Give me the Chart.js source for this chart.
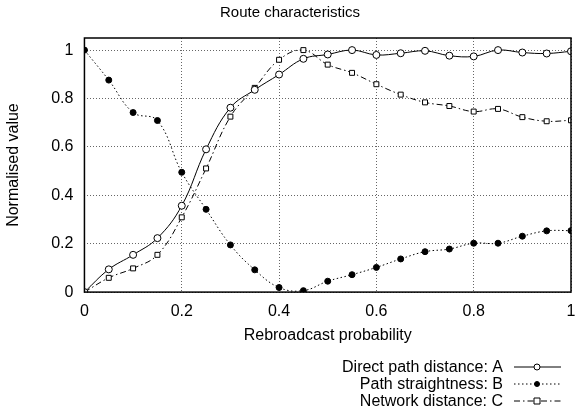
<!DOCTYPE html>
<html>
<head>
<meta charset="utf-8">
<script src="https://cdn.jsdelivr.net/npm/chart.js@4/dist/chart.umd.min.js"></script>
<style>
  html, body { margin: 0; padding: 0; background: #fff; }
  #wrap { width: 576px; height: 414px; }
</style>
</head>
<body>
<div id="wrap"><canvas id="chart"></canvas></div>
<script>
const probs = [0, 0.05, 0.1, 0.15, 0.2, 0.25, 0.3, 0.35, 0.4, 0.45, 0.5,
  0.55, 0.6, 0.65, 0.7, 0.75, 0.8, 0.85, 0.9, 0.95, 1];
const directPath = [0, 0.094, 0.154, 0.223, 0.357, 0.59, 0.762, 0.836, 0.899, 0.964, 0.982,
  1.0, 0.98, 0.987, 0.997, 0.977, 0.974, 1.0, 0.99, 0.986, 0.995];
const straightness = [1.0, 0.876, 0.742, 0.709, 0.495, 0.342, 0.195, 0.092, 0.019, 0.006, 0.045,
  0.072, 0.102, 0.137, 0.167, 0.178, 0.202, 0.202, 0.231, 0.253, 0.254];
const networkDist = [0, 0.059, 0.098, 0.154, 0.309, 0.511, 0.725, 0.844, 0.96, 1.0, 0.94,
  0.906, 0.859, 0.816, 0.784, 0.769, 0.746, 0.757, 0.723, 0.706, 0.71];
const xTicks = [0, 0.2, 0.4, 0.6, 0.8, 1];
const yTicks = [0, 0.2, 0.4, 0.6, 0.8, 1];
const seriesNames = ["Direct path distance: A", "Path straightness: B", "Network distance: C"];

const FONT = "'Liberation Sans', Arial, sans-serif";

function pts(ys) {
  return probs.map((x, i) => ({ x: x, y: ys[i] }));
}

// box round the plot, like gnuplot's border
const frame = {
  id: "frame",
  afterDraw(chart) {
    const a = chart.chartArea, ctx = chart.ctx;
    ctx.save();
    ctx.strokeStyle = "#000";
    ctx.lineWidth = 1.5;
    ctx.setLineDash([]);
    ctx.strokeRect(a.left, a.top, a.right - a.left, a.bottom - a.top);
    ctx.restore();
  }
};

// legend: right aligned text with line sample after it
const sideLegend = {
  id: "sideLegend",
  afterDraw(chart) {
    const ctx = chart.ctx;
    const textRight = 503, x0 = 514, x1 = 561, rowY = [367, 384, 401];
    ctx.save();
    ctx.font = "16px " + FONT;
    ctx.textAlign = "right";
    ctx.textBaseline = "middle";
    chart.data.datasets.forEach((ds, i) => {
      const y = rowY[i];
      ctx.fillStyle = "#000";
      ctx.fillText(ds.label, textRight, y + 1);
      ctx.strokeStyle = "#000";
      ctx.lineWidth = 1;
      ctx.setLineDash(ds.borderDash || []);
      ctx.beginPath();
      ctx.moveTo(x0, y);
      ctx.lineTo(x1, y);
      ctx.stroke();
      ctx.setLineDash([]);
      const cx = 537;
      ctx.fillStyle = ds.pointBackgroundColor;
      ctx.beginPath();
      if (ds.pointStyle === "rect") {
        ctx.rect(cx - 3, y - 3, 6, 6);
      } else {
        ctx.arc(cx, y, ds.pointRadius - 0.5, 0, Math.PI * 2);
      }
      ctx.fill();
      ctx.stroke();
    });
    ctx.restore();
  }
};

new Chart(document.getElementById("chart"), {
  type: "line",
  data: {
    datasets: [
      {
        label: seriesNames[0],
        data: pts(directPath),
        borderColor: "#000",
        borderWidth: 1,
        pointStyle: "circle",
        pointRadius: 3.5,
        pointBackgroundColor: "#fff",
        pointBorderColor: "#000",
        pointBorderWidth: 1,
        tension: 0.4,
      },
      {
        label: seriesNames[1],
        data: pts(straightness),
        borderColor: "#000",
        borderWidth: 1,
        borderDash: [1.5, 2.5],
        pointStyle: "circle",
        pointRadius: 3,
        pointBackgroundColor: "#000",
        pointBorderColor: "#000",
        tension: 0.4,
      },
      {
        label: seriesNames[2],
        data: pts(networkDist),
        borderColor: "#000",
        borderWidth: 1,
        borderDash: [6, 3, 1.5, 3],
        pointStyle: "rect",
        pointRadius: 3.5,
        pointBackgroundColor: "#fff",
        pointBorderColor: "#000",
        pointBorderWidth: 1,
        tension: 0.4,
      },
    ],
  },
  options: {
    responsive: true,
    maintainAspectRatio: false,
    animation: false,
    layout: { padding: { top: 4, right: 0, bottom: 69, left: 4 } },
    plugins: {
      legend: { display: false },
      tooltip: { enabled: false },
      title: {
        display: true,
        text: "Route characteristics",
        color: "#000",
        font: { family: FONT, size: 15, weight: "normal" },
        padding: { top: 0, bottom: 16 },
      },
    },
    scales: {
      x: {
        type: "linear",
        min: 0,
        max: 1,
        afterBuildTicks: (s) => { s.ticks = xTicks.map(v => ({ value: v })); },
        grid: { color: "#666", drawTicks: true, tickLength: 9.5, tickColor: "rgba(0,0,0,0)" },
        border: { display: false, dash: [1, 2] },
        ticks: {
          color: "#000", font: { family: FONT, size: 16 }, padding: 0, maxRotation: 0,
          callback: (v) => String(v),
        },
        title: {
          display: true,
          text: "Rebroadcast probability",
          color: "#000",
          font: { family: FONT, size: 16 },
          padding: { top: 5, bottom: 0 },
        },
      },
      y: {
        type: "linear",
        min: 0,
        max: 1.05,
        afterBuildTicks: (s) => { s.ticks = yTicks.map(v => ({ value: v })); },
        grid: { color: "#666", drawTicks: true, tickLength: 11, tickColor: "rgba(0,0,0,0)" },
        border: { display: false, dash: [1, 2] },
        ticks: {
          color: "#000", font: { family: FONT, size: 16 }, padding: 0,
          callback: (v) => String(v),
        },
        title: {
          display: true,
          text: "Normalised value",
          color: "#000",
          font: { family: FONT, size: 16 },
          padding: { top: 0, bottom: 28 },
        },
      },
    },
  },
  plugins: [frame, sideLegend],
});
</script>
</body>
</html>
